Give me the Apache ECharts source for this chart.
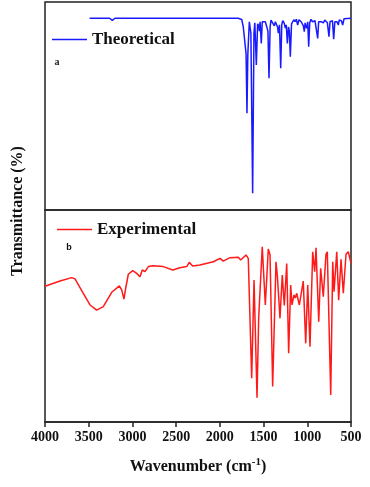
<!DOCTYPE html>
<html>
<head>
<meta charset="utf-8">
<script src="https://cdn.jsdelivr.net/npm/echarts@6/dist/echarts.min.js"></script>
<style>html,body{margin:0;padding:0;background:#fff}#c{width:370px;height:487px}</style>
</head>
<body>
<div id="c"></div>
<script>
// x ticks (wavenumber, cm-1)
const xTicks = [4000, 3500, 3000, 2500, 2000, 1500, 1000, 500];

// Theoretical spectrum (wavenumber, transmittance %)
const theoWn = [3490, 3260, 3230, 3200, 1790, 1750, 1732, 1700, 1690, 1680, 1663, 1645, 1625, 1610, 1600, 1583, 1568, 1555, 1548, 1540, 1526, 1515, 1503, 1480, 1465, 1450, 1438, 1425, 1415, 1395, 1377, 1365, 1350, 1340, 1331, 1318, 1304, 1292, 1281, 1265, 1251, 1240, 1228, 1215, 1205, 1194, 1180, 1167, 1150, 1140, 1125, 1110, 1095, 1083, 1070, 1057, 1045, 1034, 1025, 1019, 1007, 995, 984, 972, 957, 940, 923, 912, 904, 881, 870, 855, 840, 816, 800, 786, 770, 752, 740, 725, 712, 698, 685, 672, 660, 645, 635, 626, 610, 595, 580, 569, 500];
const theoT  = [92.2, 92.2, 91.2, 92.2, 92.2, 91.6, 88, 75, 46.5, 75, 90.5, 85, 8, 85, 90, 69.7, 89.5, 88.5, 86, 90.5, 80.1, 90.5, 91, 90.5, 90, 86, 63.3, 88, 91.3, 90.5, 88.5, 90.5, 89.8, 88, 85, 89, 68.1, 89, 91, 90, 87.4, 89, 80.1, 88, 86, 73.7, 89.5, 90.5, 91.5, 90.5, 91.7, 88.9, 91.5, 91.7, 90.5, 91, 88.5, 85.7, 90, 88.5, 87.4, 90.5, 78.5, 90, 91.7, 90.5, 89.7, 91, 90.5, 82.5, 90.5, 91.3, 90.5, 90, 91.3, 91.3, 90, 83.3, 90.5, 89.7, 91, 82.1, 90.5, 91.3, 90.5, 88.9, 91.3, 91.7, 91, 88.9, 91.9, 92.2, 92.2];

// Experimental spectrum (wavenumber, transmittance %)
const expWn = [4000, 3828, 3695, 3657, 3562, 3485, 3409, 3333, 3237, 3150, 3123, 3097, 3074, 3047, 2997, 2951, 2913, 2887, 2856, 2818, 2761, 2647, 2539, 2456, 2379, 2350, 2311, 2227, 2075, 1998, 1961, 1884, 1789, 1762, 1701, 1675, 1636, 1609, 1575, 1556, 1541, 1515, 1480, 1446, 1426, 1396, 1358, 1343, 1312, 1286, 1263, 1235, 1213, 1190, 1175, 1152, 1137, 1121, 1091, 1046, 1018, 995, 969, 938, 915, 900, 869, 847, 817, 786, 771, 732, 709, 694, 663, 641, 614, 588, 557, 531, 500];
const expT  = [64.0, 66.5, 68.1, 67.5, 60.7, 55.2, 52.8, 54.4, 61.2, 64.2, 62.3, 58.0, 63.8, 69.7, 71.4, 70.1, 68.5, 71.7, 70.9, 73.3, 73.7, 73.3, 71.7, 72.8, 73.3, 75.3, 73.6, 74.1, 75.6, 77.2, 75.9, 77.5, 77.7, 76.4, 78.8, 77.2, 20.6, 67.0, 11.5, 48.9, 48.1, 82.7, 55.2, 81.6, 78.8, 16.7, 75.6, 69.3, 48.9, 69.3, 55.0, 74.8, 32.4, 64.6, 55.2, 59.9, 58.5, 60.7, 55.2, 66.5, 37.1, 64.6, 35.5, 80.3, 70.9, 82.2, 47.3, 72.5, 59.1, 79.1, 80.3, 12.7, 75.6, 61.5, 80.3, 57.5, 76.7, 60.7, 79.1, 80.3, 74.8];

const zip = (a, b) => a.map((v, i) => [v, b[i]]);
const serif = '"Liberation Serif", "Times New Roman", serif';

const chart = echarts.init(document.getElementById('c'), null, {renderer: 'canvas'});
const xBase = {
  type: 'value', min: 500, max: 4000, interval: 500, inverse: true,
  splitLine: {show: false}
};
chart.setOption({
  animation: false,
  backgroundColor: '#fff',
  grid: [
    {left: 45, right: 19, top: 2, height: 208, show: true, borderColor: '#222', borderWidth: 1.5},
    {left: 45, right: 19, top: 210, height: 212, show: true, borderColor: '#222', borderWidth: 1.5}
  ],
  xAxis: [
    Object.assign({}, xBase, {gridIndex: 0, axisLine: {show: false}, axisTick: {show: false}, axisLabel: {show: false}}),
    Object.assign({}, xBase, {
      gridIndex: 1,
      axisLine: {show: true, lineStyle: {color: '#222', width: 1.5}},
      axisTick: {show: true, inside: false, length: 5, lineStyle: {color: '#222', width: 1.5}},
      axisLabel: {margin: 8, color: '#111', fontFamily: serif, fontWeight: 'bold', fontSize: 14,
        formatter: v => xTicks.includes(v) ? String(v) : ''},
      name: 'Wavenumber (cm{sup|-1})',
      nameLocation: 'middle', nameGap: 35,
      nameTextStyle: {color: '#111', fontFamily: serif, fontWeight: 'bold', fontSize: 16,
        rich: {sup: {fontFamily: serif, fontWeight: 'bold', fontSize: 11, color: '#111', padding: [0, 0, 9, 0]}}}
    })
  ],
  yAxis: [
    {type: 'value', gridIndex: 0, min: 0, max: 100, show: false},
    {type: 'value', gridIndex: 1, min: 0, max: 100, show: false}
  ],
  legend: [
    {left: 52, top: 31, padding: 0, data: ['Theoretical'], icon: 'rect', itemWidth: 35, itemHeight: 1.5,
      textStyle: {fontFamily: serif, fontWeight: 'bold', fontSize: 17, color: '#111'}},
    {left: 57, top: 221, padding: 0, data: ['Experimental'], icon: 'rect', itemWidth: 35, itemHeight: 1.5,
      textStyle: {fontFamily: serif, fontWeight: 'bold', fontSize: 17, color: '#111'}}
  ],
  series: [
    {name: 'Theoretical', type: 'line', xAxisIndex: 0, yAxisIndex: 0, data: zip(theoWn, theoT),
      symbol: 'none', lineStyle: {color: '#1a1aff', width: 1.5}, itemStyle: {color: '#1a1aff'}},
    {name: 'Experimental', type: 'line', xAxisIndex: 1, yAxisIndex: 1, data: zip(expWn, expT),
      symbol: 'none', lineStyle: {color: '#ff1a1a', width: 1.5}, itemStyle: {color: '#ff1a1a'}}
  ],
  graphic: [
    {type: 'text', x: 18, y: 211, rotation: Math.PI / 2,
      style: {text: 'Transmittance (%)', fontFamily: serif, fontWeight: 'bold', fontSize: 16, fill: '#111',
        align: 'center', verticalAlign: 'middle'}},
    {type: 'text', x: 57, y: 62, style: {text: 'a', fontFamily: serif, fontWeight: 'bold', fontSize: 10, fill: '#222', align: 'center', verticalAlign: 'middle'}},
    {type: 'text', x: 69, y: 248, style: {text: 'b', fontFamily: 'Liberation Sans, Arial, sans-serif', fontWeight: 'bold', fontSize: 9, fill: '#111', align: 'center', verticalAlign: 'middle'}}
  ]
});
</script>
</body>
</html>
